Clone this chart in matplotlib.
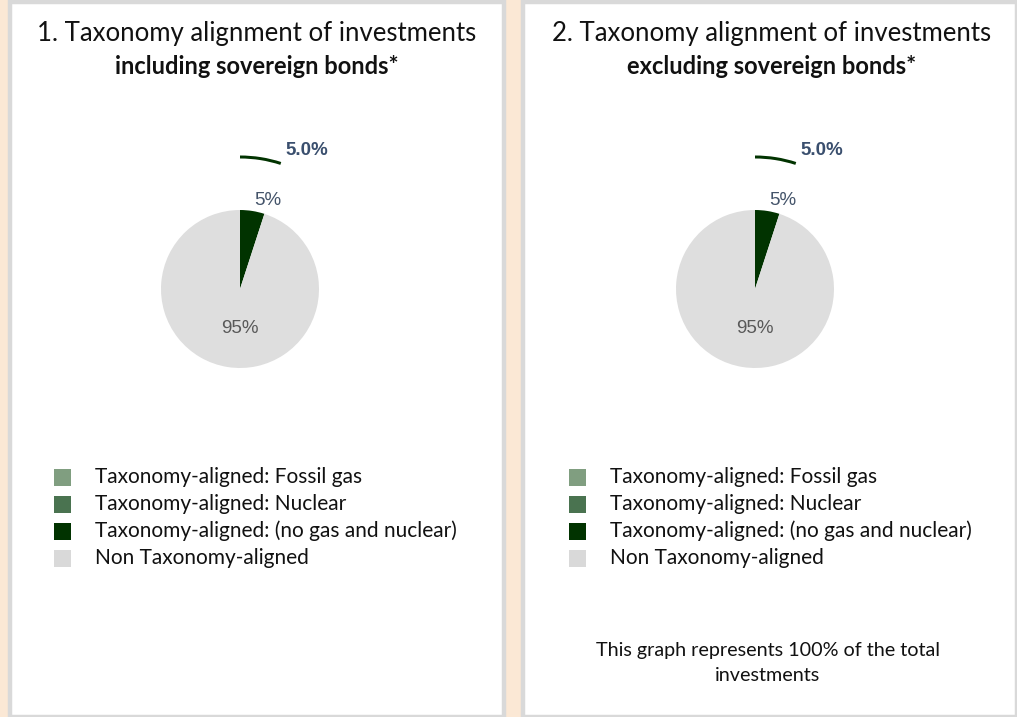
import matplotlib
matplotlib.use("Agg")
import matplotlib.pyplot as plt
from matplotlib.patches import Rectangle

# ---- data ----
categories = ["Taxonomy-aligned: Fossil gas",
              "Taxonomy-aligned: Nuclear",
              "Taxonomy-aligned: (no gas and nuclear)",
              "Non Taxonomy-aligned"]
incl_values = [0.0, 0.0, 5.0, 95.0]
excl_values = [0.0, 0.0, 5.0, 95.0]
legend_colors = ["#809E80", "#4A7350", "#013300", "#D9D9D9"]
pie_colors = ["#809E80", "#4A7350", "#013300", "#DEDEDE"]
titles = [("1. Taxonomy alignment of investments", "including sovereign bonds*"),
          ("2. Taxonomy alignment of investments", "excluding sovereign bonds*")]
footnote = "This graph represents 100% of the total\ninvestments"

W, H = 1017, 717
DPI = 100
fig = plt.figure(figsize=(W / DPI, H / DPI), dpi=DPI)
fig.patch.set_facecolor("#FBE8D5")

FONT = "Lato"

def fx(x):
    return x / W

def fy(y):
    return 1 - y / H

panels = [(10, 2, 494, 715), (523, 2, 494, 715)]
for (px, py, pw, ph) in panels:
    fig.patches.append(Rectangle((fx(px), fy(py + ph)), pw / W, ph / H,
                                 transform=fig.transFigure, facecolor="white",
                                 edgecolor="#D9D9D9", linewidth=3.2, zorder=-1))

datasets = [incl_values, excl_values]
R = 79
ARC_R = 133.5
for i, (vals, (t1, t2)) in enumerate(zip(datasets, titles)):
    off = 0 if i == 0 else 515
    cx, cy = 240 + off, 289
    # titles
    fig.text(fx(257 + off), fy(33), t1, ha="center", va="center",
             fontsize=18.5, family=FONT, color="#111111")
    fig.text(fx(257 + off), fy(66), t2, ha="center", va="center",
             fontsize=17, family=FONT, fontweight="bold", color="#111111")
    # pie axes in pixel units
    S = 320
    ax = fig.add_axes([fx(cx - S / 2), fy(cy + S / 2), S / W, S / H])
    ax.patch.set_visible(False)
    wedges, _ = ax.pie(vals, colors=pie_colors, radius=R, startangle=90,
                       counterclock=False,
                       wedgeprops=dict(linewidth=0))
    # outer arc highlighting aligned share
    aligned = sum(vals[:3])
    ax.pie([aligned, 100 - aligned], colors=["#013300", "none"], radius=ARC_R,
           startangle=90, counterclock=False,
           wedgeprops=dict(width=3, linewidth=0))
    ax.set_xlim(-S / 2, S / 2)
    ax.set_ylim(-S / 2, S / 2)
    ax.set_aspect("equal")
    ax.axis("off")
    # labels
    ax.text(28, 89, f"{vals[2]:.0f}%", ha="center", va="center",
            fontsize=13.5, family="Liberation Sans", color="#44546A")
    ax.text(0, -39, f"{vals[3]:.0f}%", ha="center", va="center",
            fontsize=13.5, family="Liberation Sans", color="#595959")
    ax.text(67, 139, f"{aligned:.1f}%", ha="center", va="center",
            fontsize=13.5, family="Liberation Sans", fontweight="bold",
            color="#3A4F6E")
    # legend
    for j, (lab, col) in enumerate(zip(categories, legend_colors)):
        ry = 477 + j * 27
        fig.patches.append(Rectangle((fx(54 + off), fy(ry + 8.5)), 17 / W, 17 / H,
                                     transform=fig.transFigure, facecolor=col,
                                     edgecolor="none", zorder=2))
        fig.text(fx(95 + off), fy(ry), lab, ha="left", va="center",
                 fontsize=15, family=FONT, color="#111111")

fig.text(fx(768), fy(663), footnote, ha="center", va="center",
         fontsize=14.2, family=FONT, color="#111111", linespacing=1.6)

fig.savefig("out.png", dpi=DPI, facecolor=fig.get_facecolor())
